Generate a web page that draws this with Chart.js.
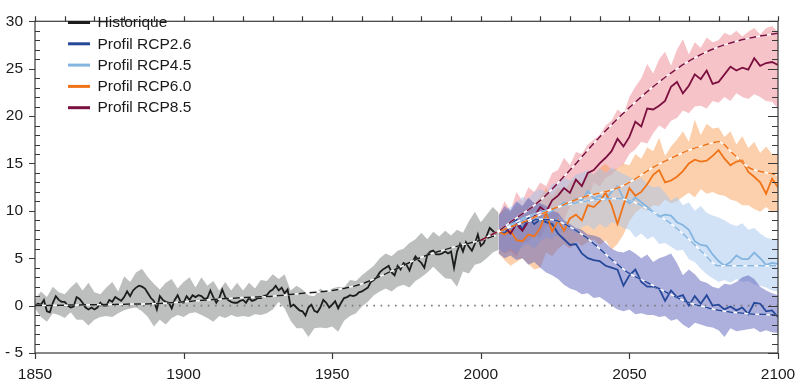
<!DOCTYPE html>
<html>
<head>
<meta charset="utf-8">
<script src="https://cdn.jsdelivr.net/npm/chart.js@4.4.1/dist/chart.umd.min.js"></script>
<style>
  html, body { margin: 0; padding: 0; background: #fff; }
</style>
</head>
<body>
<canvas id="climChart" width="811" height="392"></canvas>
<script>
// years helper (categories only)
const yrs = (a, b, s) => { const o = []; for (let v = a; v <= b; v += s) o.push(v); return o; };

const histYears = yrs(1850, 2006, 1);
const histBandYears = yrs(1850, 2006, 2);
const projYears = yrs(2006, 2100, 2);

const histLine = [
  0.0, 0.2, 0.1, 0.6, -0.6, -0.7, 0.3, 1.0, 0.6, 0.4,
  0.4, 0.0, -0.2, -0.1, 0.9, 0.7, 0.3, -0.2, -0.4, -0.2,
  -0.4, -0.2, 0.3, 0.0, 0.0, 0.6, 0.4, 0.9, 0.7, 0.5,
  0.9, 1.5, 1.0, 1.6, 1.9, 2.1, 2.0, 1.8, 1.3, 0.8,
  0.5, -0.4, 1.0, 0.6, 0.4, 0.3, -0.3, 0.6, 1.1, 0.4,
  0.3, 1.0, 0.6, 1.1, 0.9, 1.1, 1.0, 0.7, 0.8, 1.6,
  0.9, 0.3, 0.8, 1.7, 0.9, 0.6, 0.4, 0.3, 0.3, 0.5,
  0.6, 0.3, 0.8, 0.5, 0.6, 0.8, 0.8, 1.0, 1.1, 1.5,
  1.7, 2.1, 1.6, 1.9, 1.3, 1.7, -0.1, 0.1, -0.2, -0.5,
  -0.6, -1.05, -0.2, 0.1, -0.55, -0.7, -0.2, 0.6, 0.3, -0.2,
  0.1, 0.46, -0.3, 0.3, 0.8, 0.9, 1.1, 1.0, 1.1, 1.4,
  1.5, 1.7, 1.9, 2.5, 2.7, 3.0, 3.5, 3.8, 4.0, 4.2,
  3.5, 3.2, 4.2, 3.8, 4.5, 4.3, 3.7, 4.6, 5.2, 4.8,
  4.5, 4.0, 5.35, 5.7, 5.8, 5.4, 5.4, 5.5, 5.7, 5.5,
  5.7, 4.0, 5.7, 6.5, 5.7, 6.7, 6.2, 5.8, 6.5, 7.5,
  6.3, 6.6, 7.4, 8.2, 7.9, 7.6, 7.8
];
const histHigh = [
  0.7, 1.5, 0.9, 2.0, 1.4, 1.2, 1.9, 2.5, 1.6, 2.4,
  1.4, 1.2, 1.9, 2.5, 1.5, 3.1, 2.5, 3.5, 3.9, 3.0,
  2.3, 1.7, 2.4, 2.8, 1.8, 2.5, 3.0, 1.9, 3.0, 2.1,
  2.6, 1.6, 2.5, 1.6, 2.4, 1.6, 2.4, 1.8, 2.7, 2.6,
  3.3, 2.8, 3.3, 1.6, 2.1, 1.7, 1.1, 1.0, 1.8, 1.4,
  1.8, 2.0, 1.9, 2.7, 2.6, 3.2, 3.7, 4.2, 5.0, 5.5,
  5.2, 5.8, 6.0, 6.6, 7.0, 7.7, 7.0, 7.8, 7.3, 7.9,
  7.4, 8.0, 7.7, 8.9, 9.9, 8.8, 9.6, 10.4, 9.8
];
const histLow = [
  -0.3, -1.2, -1.7, -0.8, -1.0, -1.3, -0.7, -1.5, -1.5, -2.1,
  -1.5, -1.2, -1.1, -1.2, -0.8, -0.5, -0.3, -0.2, -0.6, -1.2,
  -2.2, -1.5, -2.0, -1.3, -1.0, -1.2, -0.8, -0.7, -1.0, -1.3,
  -1.7, -1.1, -1.3, -1.0, -1.2, -1.1, -1.2, -0.9, -1.0, -0.8,
  -0.4, 0.4, -0.3, -1.6, -2.4, -2.4, -3.3, -2.4, -2.3, -2.4,
  -2.2, -2.75, -1.6, -1.1, -0.8, -0.1, 0.4, 1.1, 1.5, 1.8,
  1.5, 2.0, 2.2, 1.9, 2.6, 3.0, 3.5, 4.1, 3.5, 2.9,
  2.8, 2.0, 3.6, 3.4, 4.3, 4.5, 5.0, 5.6, 5.9
];
const histTrendYears = [1850, 1860, 1870, 1880, 1890, 1900, 1910, 1920, 1930, 1940, 1950, 1960, 1970, 1980, 1990, 2000, 2005];
const histTrend = [0.0, 0.05, 0.1, 0.15, 0.2, 0.4, 0.65, 0.85, 1.0, 1.3, 1.6, 2.3, 3.65, 5.1, 6.1, 6.9, 7.4];

// RCP2.6
const rcp26Line = [
  7.8, 7.6, 8.4, 9.1, 8.0, 9.3, 8.6, 9.1, 8.8, 8.6,
  7.6, 7.0, 6.4, 6.5, 5.5, 5.0, 4.8, 4.7, 4.2, 4.0,
  3.8, 2.1, 3.2, 3.8, 2.5, 2.0, 2.0, 1.8, 0.5, 1.6,
  0.9, 1.1, 0.0, 1.0, 0.2, 1.1, 0.0, 0.1, -0.4, -0.1,
  -0.5, -0.2, -0.9, 0.3, 0.2, -0.6, -0.5, -1.2
];
const rcp26High = [
  9.5, 10.5, 10.0, 11.0, 10.5, 11.4, 10.8, 10.8, 10.5, 10.0,
  9.8, 9.0, 8.6, 8.2, 8.0, 7.5, 7.4, 7.2, 6.6, 6.0,
  5.7, 5.6, 5.9, 5.5, 5.0, 5.4, 4.6, 5.0, 5.2, 5.5,
  4.5, 3.2, 3.8, 3.3, 2.6, 2.4, 2.0, 1.8, 2.3, 2.2,
  2.5, 3.0, 3.2, 2.8, 2.0, 1.6, 1.3, 1.1
];
const rcp26Low = [
  5.5, 5.0, 5.3, 4.8, 5.0, 4.3, 4.6, 4.0, 3.5, 3.2,
  2.8, 2.2, 1.8, 1.6, 1.2, 1.3, 0.8, 0.9, 0.5, 0.0,
  -0.4, -0.6, -0.4, -0.9, -0.8, -1.0, -1.0, -1.2, -1.1, -1.6,
  -1.4, -2.0, -2.4, -1.8, -2.0, -2.2, -2.3, -2.6, -3.3, -2.4,
  -2.7, -2.6, -2.5, -2.4, -2.8, -2.6, -2.8, -2.9
];
const rcp26TrendYears = [2000, 2006, 2015, 2020, 2025, 2030, 2035, 2040, 2045, 2050, 2055, 2060, 2065, 2070, 2075, 2080, 2090, 2100];
const rcp26Trend = [6.9, 7.8, 8.8, 9.1, 9.0, 8.3, 7.3, 6.0, 4.6, 3.4, 2.6, 1.8, 1.0, 0.3, -0.1, -0.5, -0.85, -1.0];

// RCP4.5
const rcp45Line = [
  7.8, 8.0, 8.6, 8.3, 9.2, 8.8, 9.6, 9.0, 9.6, 10.0,
  10.4, 10.9, 10.7, 11.3, 11.1, 12.1, 11.3, 11.6, 11.2, 12.0,
  12.6, 11.3, 10.8, 11.4, 10.9, 10.4, 9.9, 9.4, 9.6, 9.5,
  8.8, 8.5, 8.0, 6.8, 6.4, 6.3, 5.4, 4.7, 4.2, 4.6,
  5.3, 4.9, 4.9, 5.6, 5.0, 4.3, 4.5, 4.4
];
const rcp45High = [
  9.5, 10.0, 10.4, 10.8, 11.5, 11.2, 12.0, 12.3, 12.0, 12.8,
  13.0, 13.5, 13.2, 13.8, 14.0, 14.3, 13.8, 14.5, 14.0, 14.6,
  14.2, 13.9, 13.6, 13.2, 13.5, 12.8, 12.5, 12.6, 11.9, 11.1,
  11.5, 10.6, 10.9, 10.0, 10.5, 9.8, 9.5, 9.3, 9.0, 8.6,
  8.4, 8.7, 8.0, 8.2, 7.6, 7.2, 7.0, 6.9
];
const rcp45Low = [
  6.0, 5.6, 6.0, 5.5, 6.2, 6.5, 6.0, 6.8, 7.2, 7.0,
  7.6, 7.8, 8.0, 7.6, 8.3, 8.5, 8.0, 8.6, 8.2, 8.8,
  8.6, 8.2, 8.0, 7.2, 7.6, 7.0, 7.3, 6.5, 6.6, 6.2,
  5.8, 5.9, 4.9, 4.6, 3.9, 3.3, 2.9, 2.5, 2.7, 2.4,
  2.8, 2.5, 2.6, 2.2, 2.1, 1.9, 1.6, 1.5
];
const rcp45TrendYears = [2000, 2006, 2015, 2025, 2035, 2045, 2050, 2055, 2060, 2065, 2070, 2075, 2080, 2090, 2100];
const rcp45Trend = [6.9, 7.8, 9.3, 10.3, 11.0, 11.3, 11.1, 10.4, 9.5, 8.4, 7.0, 5.5, 4.2, 4.2, 4.2];

// RCP6.0
const rcp60Line = [
  7.8, 7.5, 7.9, 6.9, 6.8, 7.5, 7.3, 8.2, 9.8, 7.8,
  9.0, 7.9, 9.2, 9.6, 9.0, 10.6, 10.4, 11.0, 11.9, 10.6,
  8.6, 10.6, 12.4, 11.6, 12.0, 12.8, 13.8, 14.3, 13.0, 13.2,
  13.6, 14.2, 15.0, 15.4, 15.2, 15.3, 15.8, 16.4, 15.5, 14.8,
  15.2, 15.3, 14.1, 13.6, 13.0, 11.8, 13.4, 12.5
];
const rcp60High = [
  9.5, 10.2, 9.8, 10.5, 10.4, 11.2, 10.8, 11.5, 12.4, 11.5,
  12.5, 12.0, 13.0, 13.5, 13.0, 14.2, 13.8, 14.5, 15.0, 14.3,
  14.5, 15.0, 14.8, 16.0, 15.5, 16.7, 16.3, 17.7, 15.8, 16.8,
  17.5, 18.4, 17.3, 19.6, 18.0, 19.2, 18.7, 18.8, 17.8, 18.4,
  17.0, 17.9, 16.6, 17.3, 16.1, 16.8, 16.0, 16.0
];
const rcp60Low = [
  5.5, 4.8, 4.2, 4.6, 5.0, 4.4, 3.8, 4.0, 5.6, 5.2,
  6.0, 6.5, 6.0, 6.8, 6.3, 6.7, 7.0, 6.4, 6.9, 5.9,
  6.5, 7.5, 8.9, 9.8, 10.3, 10.0, 10.6, 10.5, 11.2, 10.8,
  11.0, 11.5, 11.9, 11.4, 12.3, 11.8, 12.0, 11.7, 11.6, 11.2,
  11.0, 10.6, 10.6, 10.2, 9.9, 10.4, 9.8, 10.0
];
const rcp60TrendYears = [2000, 2006, 2015, 2025, 2035, 2045, 2050, 2058, 2065, 2070, 2075, 2080, 2085, 2090, 2095, 2100];
const rcp60Trend = [6.9, 7.8, 8.9, 10.3, 11.5, 12.3, 13.0, 14.6, 15.7, 16.4, 16.9, 17.3, 16.0, 14.6, 14.1, 13.8];

// RCP8.5
const rcp85Line = [
  7.8, 8.3, 7.6, 8.6, 7.9, 8.9, 9.4, 10.4, 9.9, 11.1,
  11.6, 12.4, 11.9, 13.3, 12.6, 14.0, 14.3, 15.0, 15.6, 16.3,
  17.6, 16.8, 17.8, 19.4, 18.9, 20.8, 20.7, 21.1, 21.6, 23.1,
  23.6, 22.4, 23.2, 24.4, 23.9, 24.8, 23.4, 23.6, 24.4, 25.2,
  24.8, 25.1, 24.9, 26.1, 25.3, 25.6, 25.7, 25.4
];
const rcp85High = [
  9.5, 11.0, 10.0, 12.0, 11.0, 12.5, 12.0, 13.0, 12.6, 14.0,
  14.3, 15.6, 14.8, 16.2, 16.0, 17.0, 17.5, 18.0, 19.0, 19.5,
  20.7, 20.2, 22.0, 23.1, 24.0, 25.5, 24.5, 26.0, 26.8, 25.3,
  27.0, 28.1, 26.5, 27.8, 27.2, 28.3, 27.8, 28.0, 28.8, 28.5,
  29.0, 28.4, 28.9, 29.3, 28.6, 29.3, 29.5, 28.9
];
const rcp85Low = [
  6.0, 5.5, 5.8, 5.2, 6.5, 6.8, 7.5, 7.2, 8.5, 8.2,
  9.5, 9.0, 10.5, 10.8, 11.5, 11.2, 13.0, 12.6, 13.5, 13.8,
  14.5, 14.9, 16.0, 16.5, 17.3, 17.1, 18.2, 19.0, 18.6, 19.5,
  19.8, 20.6, 20.3, 21.0, 21.1, 20.8, 21.6, 21.4, 22.0, 21.6,
  22.4, 22.0, 21.8, 22.3, 22.0, 21.6, 21.5, 20.8
];
const rcp85TrendYears = [2000, 2006, 2010, 2020, 2030, 2040, 2050, 2060, 2070, 2080, 2090, 2100];
const rcp85Trend = [6.9, 7.9, 8.8, 11.1, 14.3, 17.8, 20.9, 23.6, 25.8, 27.3, 28.2, 28.75];

const zeroYears = [1850, 2100];
const zeroLine = [0, 0];

const legendLabels = ['Historique', 'Profil RCP2.6', 'Profil RCP4.5', 'Profil RCP6.0', 'Profil RCP8.5'];
const legendColors = ['#1c1c1c', '#26489a', '#84b5e0', '#f07318', '#7b0f3f'];

const pts = (xs, ys) => ys.map((v, i) => ({ x: xs[i], y: v }));

function line(label, xs, ys, color, order) {
  return { label, data: pts(xs, ys), borderColor: color, backgroundColor: color,
    borderWidth: 1.8, pointRadius: 0, tension: 0, fill: false, order };
}
function trend(xs, ys, color) {
  // white underlay + coloured dashes on top
  return [
    { label: 'trend', data: pts(xs, ys), borderColor: color, borderWidth: 1.5,
      borderDash: [7, 4], pointRadius: 0, cubicInterpolationMode: 'monotone', fill: false, order: 1 },
    { label: 'trend-bg', data: pts(xs, ys), borderColor: '#ffffff', borderWidth: 1.5,
      pointRadius: 0, cubicInterpolationMode: 'monotone', fill: false, order: 2 }
  ];
}
function band(xs, hi, lo, color, order) {
  return [
    { label: 'band', data: pts(xs, hi), borderWidth: 0, borderColor: 'transparent', pointRadius: 0,
      backgroundColor: color, fill: '+1', order },
    { label: 'band', data: pts(xs, lo), borderWidth: 0, borderColor: 'transparent', pointRadius: 0,
      fill: false, order }
  ];
}

const FONT = '"Liberation Sans", Arial, Helvetica, sans-serif';

const frameTicks = {
  id: 'frameTicks',
  afterDraw(chart) {
    const { ctx, chartArea: a, scales: { x, y } } = chart;
    ctx.save();
    ctx.strokeStyle = '#3a3a3a';
    ctx.lineWidth = 1.2;
    ctx.strokeRect(a.left, a.top, a.right - a.left, a.bottom - a.top);
    ctx.beginPath();
    for (let v = -5; v <= 30; v++) {
      const py = Math.round(y.getPixelForValue(v)) + 0.5;
      if (v % 5 === 0) {
        ctx.moveTo(a.left - 6, py); ctx.lineTo(a.left, py);
        ctx.moveTo(a.right - 10, py); ctx.lineTo(a.right, py);
      } else {
        ctx.moveTo(a.left, py); ctx.lineTo(a.left + 5, py);
        ctx.moveTo(a.right - 6, py); ctx.lineTo(a.right, py);
      }
    }
    for (let yr = 1850; yr <= 2100; yr += 10) {
      const px = Math.round(x.getPixelForValue(yr)) + 0.5;
      ctx.moveTo(px, a.top); ctx.lineTo(px, a.top - 5);
      if (yr % 50 === 0) { ctx.moveTo(px, a.bottom); ctx.lineTo(px, a.bottom + 6); }
    }
    ctx.stroke();

    // legend
    ctx.font = '15.5px ' + FONT;
    ctx.textBaseline = 'middle';
    legendLabels.forEach((lab, i) => {
      const cy = 22.5 + i * 21.3;
      ctx.strokeStyle = legendColors[i];
      ctx.lineWidth = 3;
      ctx.beginPath(); ctx.moveTo(68, cy); ctx.lineTo(90, cy); ctx.stroke();
      ctx.fillStyle = '#1a1a1a';
      ctx.fillText(lab, 97.5, cy + 0.5);
    });
    ctx.restore();
  }
};

const ctx = document.getElementById('climChart').getContext('2d');
const climChart = new Chart(ctx, {
  type: 'line',
  data: {
    datasets: [
      ...trend(rcp85TrendYears, rcp85Trend, legendColors[4]),
      ...trend(rcp60TrendYears, rcp60Trend, legendColors[3]),
      ...trend(rcp45TrendYears, rcp45Trend, legendColors[2]),
      ...trend(rcp26TrendYears, rcp26Trend, legendColors[1]),
      ...trend(histTrendYears, histTrend, '#1c1c1c'),
      line('Profil RCP8.5', projYears, rcp85Line, legendColors[4], 3),
      line('Profil RCP6.0', projYears, rcp60Line, legendColors[3], 3),
      line('Profil RCP4.5', projYears, rcp45Line, legendColors[2], 3),
      line('Profil RCP2.6', projYears, rcp26Line, legendColors[1], 3),
      line('Historique', histYears, histLine, legendColors[0], 3),
      { label: 'zero', data: pts(zeroYears, zeroLine), borderColor: '#7a7a7a', borderWidth: 1.6,
        borderDash: [1.6, 5.6], pointRadius: 0, fill: false, order: 4 },
      ...band(projYears, rcp26High, rcp26Low, 'rgba(92,96,186,0.5)', 5),
      ...band(projYears, rcp45High, rcp45Low, 'rgba(165,198,238,0.5)', 6),
      ...band(projYears, rcp60High, rcp60Low, 'rgba(248,150,72,0.45)', 7),
      ...band(projYears, rcp85High, rcp85Low, 'rgba(238,135,145,0.5)', 8),
      ...band(histBandYears, histHigh, histLow, 'rgb(189,190,190)', 9)
    ]
  },
  options: {
    responsive: false,
    animation: false,
    layout: { padding: { top: 8, right: 33, left: 0, bottom: 0 } },
    plugins: {
      legend: { display: false },
      tooltip: { enabled: false },
      filler: { drawTime: 'beforeDatasetsDraw', propagate: false }
    },
    scales: {
      x: {
        type: 'linear', min: 1850, max: 2100,
        grid: { display: false, drawTicks: false },
        border: { display: false },
        ticks: { stepSize: 50, padding: 12, color: '#1a1a1a', font: { family: FONT, size: 15.5 },
          callback: v => String(v), maxRotation: 0 },
        afterFit: s => { s.height = 39; }
      },
      y: {
        min: -5, max: 30,
        grid: { display: false, drawTicks: false },
        border: { display: false },
        ticks: { stepSize: 5, padding: 12, color: '#1a1a1a', font: { family: FONT, size: 15.5 },
          callback: v => (v < 0 ? '- ' + Math.abs(v) : String(v)) },
        afterFit: s => { s.width = 35; }
      }
    }
  },
  plugins: [frameTicks]
});
</script>
</body>
</html>
